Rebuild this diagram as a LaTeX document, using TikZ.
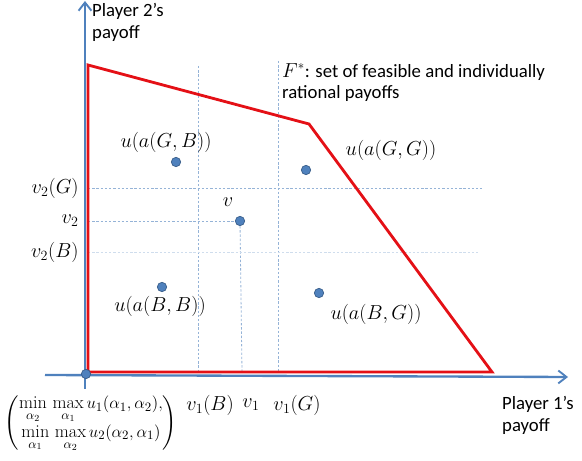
\documentclass[tikz,border=0pt]{standalone}
\usepackage{amsmath,amssymb}
\usepackage{fontspec}
\usetikzlibrary{arrows.meta}
\newfontfamily\calfont{Carlito}

\definecolor{axisblue}{RGB}{79,129,189}
\definecolor{dotedge}{RGB}{56,93,138}
\definecolor{guideblue}{RGB}{149,179,215}
\definecolor{regionred}{RGB}{228,16,22}

\tikzset{
  axis/.style={draw=axisblue, line width=2pt, -{Straight Barb[length=7pt,width=11pt,line width=1.6pt]}},
  region/.style={draw=regionred, line width=2.4pt, line join=miter},
  guide/.style={draw=guideblue, line width=0.7pt, dash pattern=on 2pt off 1.6pt},
  faintguide/.style={guide, draw=guideblue!45},
  payoffpt/.style={circle, fill=axisblue, draw=dotedge, line width=0.6pt, inner sep=0pt, minimum size=0.28cm},
  mathlbl/.style={inner sep=1pt, font=\fontsize{17}{20}\selectfont},
  txtlbl/.style={inner sep=0pt, align=left, font=\calfont\fontsize{16}{18.5}\selectfont},
}

\begin{document}
\begin{tikzpicture}[x=0.03cm, y=-0.03cm]
  \useasboundingbox (0,0) rectangle (582,461);

  % guide lines
  \coordinate (vb top) at (198,66);
  \coordinate (vb bot) at (198,372);
  \coordinate (vg top) at (278,61);
  \coordinate (vg bot) at (278,372);
  \coordinate (v1 bot) at (242,372);
  \coordinate (g left) at (88,188);
  \coordinate (g right) at (482,188);
  \coordinate (m left) at (88,221);
  \coordinate (b left) at (88,252);
  \coordinate (b right) at (480,252);

  \node[payoffpt] (v)  at (240,221) {};
  \node[payoffpt] (gb) at (176,162) {};
  \node[payoffpt] (gg) at (306,170) {};
  \node[payoffpt] (bb) at (162,287) {};
  \node[payoffpt] (bg) at (319,293) {};

  \draw[guide] (vb top) -- (vb bot);
  \draw[guide] (vg top) -- (vg bot);
  \draw[guide] (v) -- (v1 bot);
  \draw[guide] (g left) -- (g right);
  \draw[guide] (m left) -- (v);
  \draw[faintguide] (b left) -- (b right);

  % axes
  \coordinate (xstart) at (45,375);
  \coordinate (xend) at (568,377);
  \coordinate (ystart) at (85,389);
  \coordinate (yend) at (85,1);
  \draw[axis] (xstart) -- (xend);
  \draw[axis] (ystart) -- (yend);

  % feasible, individually rational region
  \coordinate (r1) at (88,65);
  \coordinate (r2) at (309,124);
  \coordinate (r3) at (492,372);
  \coordinate (r4) at (88,372);
  \draw[region] (r1) -- (r2) -- (r3) -- (r4) -- cycle;

  \node[payoffpt] (o) at (86,374) {};

  % labels of the points
  \node[mathlbl] (lgb) at (166,142) {$u(a(G,B))$};
  \node[mathlbl] (lgg) at (391,150) {$u(a(G,G))$};
  \node[mathlbl] (lv)  at (228,202) {$v$};
  \node[mathlbl] (lbb) at (160,306) {$u(a(B,B))$};
  \node[mathlbl] (lbg) at (376,314) {$u(a(B,G))$};

  % axis values
  \node[mathlbl, anchor=east] (v2g) at (80,188) {$v_2(G)$};
  \node[mathlbl, anchor=east] (v2)  at (80,221) {$v_2$};
  \node[mathlbl, anchor=east] (v2b) at (80,252) {$v_2(B)$};
  \node[mathlbl] (v1b) at (210,405) {$v_1(B)$};
  \node[mathlbl] (v1)  at (251,405) {$v_1$};
  \node[mathlbl] (v1g) at (297,405) {$v_1(G)$};
  \node[mathlbl, inner sep=0pt, font=\fontsize{15.5}{18}\selectfont] (minmax) at (91,423) {$\begin{pmatrix}
      \min\limits_{\alpha_2}\,\max\limits_{\alpha_1} u_1(\alpha_1,\alpha_2),\\[-1pt]
      \min\limits_{\alpha_1}\,\max\limits_{\alpha_2} u_2(\alpha_2,\alpha_1)
    \end{pmatrix}$};

  % axis names and region name
  \node[txtlbl, anchor=north west] (p2) at (92,3) {Player 2’s\\payoff};
  \node[txtlbl, anchor=north west] (p1) at (502,396) {Player 1’s\\payoff};
  \node[txtlbl, anchor=north west] (fstar) at (282,63)
    {{\fontsize{16}{18}\selectfont$F^{*}$}: set of feasible and individually\\rational payoffs};
\end{tikzpicture}
\end{document}
